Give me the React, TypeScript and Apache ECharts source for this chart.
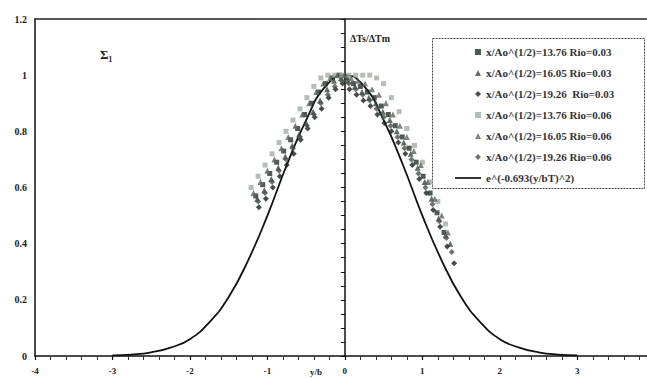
import React, { useEffect, useRef } from "react";
import * as echarts from "echarts";

// Normalised lateral coordinate y/b (x) against excess temperature ratio ΔTs/ΔTm (y)
const seriesNames = [
  "x/Ao^(1/2)=13.76 Rio=0.03",
  "x/Ao^(1/2)=16.05 Rio=0.03",
  "x/Ao^(1/2)=19.26  Rio=0.03",
  "x/Ao^(1/2)=13.76 Rio=0.06",
  "x/Ao^(1/2)=16.05 Rio=0.06",
  "x/Ao^(1/2)=19.26 Rio=0.06",
];
const curveName = "e^(-0.693(y/bT)^2)";

const pointsA: [number, number][] = [
  [-1.15, 0.57], [-1.06, 0.61], [-0.97, 0.65], [-0.88, 0.69], [-0.79, 0.73], [-0.7, 0.77],
  [-0.61, 0.81], [-0.52, 0.86], [-0.43, 0.9], [-0.34, 0.94], [-0.25, 0.97], [-0.16, 0.99],
  [-0.07, 1.0], [0.02, 0.99], [0.11, 0.97], [0.2, 0.96], [0.29, 0.94], [0.38, 0.92],
  [0.47, 0.89], [0.56, 0.86], [0.65, 0.82], [0.74, 0.78], [0.83, 0.74], [0.92, 0.69],
  [1.01, 0.64], [1.1, 0.58], [1.19, 0.51], [1.28, 0.44],
];
const pointsB: [number, number][] = [
  [-1.13, 0.56], [-1.04, 0.59], [-0.95, 0.63], [-0.86, 0.67], [-0.77, 0.71], [-0.68, 0.75],
  [-0.59, 0.79], [-0.5, 0.83], [-0.41, 0.87], [-0.32, 0.91], [-0.23, 0.95], [-0.14, 0.98],
  [-0.05, 0.99], [0.04, 0.98], [0.13, 0.96], [0.22, 0.94], [0.31, 0.92], [0.4, 0.9],
  [0.49, 0.87], [0.58, 0.84], [0.67, 0.8], [0.76, 0.76], [0.85, 0.72], [0.94, 0.67],
  [1.03, 0.62], [1.12, 0.56], [1.21, 0.49], [1.3, 0.43], [1.36, 0.4],
];
const pointsC: [number, number][] = [
  [-1.11, 0.53], [-1.02, 0.56], [-0.93, 0.6], [-0.84, 0.64], [-0.75, 0.68], [-0.66, 0.72],
  [-0.57, 0.77], [-0.48, 0.81], [-0.39, 0.85], [-0.3, 0.88], [-0.21, 0.92], [-0.12, 0.95],
  [-0.03, 0.97], [0.06, 0.95], [0.15, 0.93], [0.24, 0.91], [0.33, 0.89], [0.42, 0.86],
  [0.51, 0.83], [0.6, 0.8], [0.69, 0.76], [0.78, 0.72], [0.87, 0.68], [0.96, 0.63],
  [1.05, 0.58], [1.14, 0.52], [1.23, 0.46], [1.32, 0.39], [1.41, 0.33],
];
const pointsD: [number, number][] = [
  [-1.21, 0.6], [-1.12, 0.64], [-1.03, 0.68], [-0.94, 0.72], [-0.85, 0.76], [-0.76, 0.8],
  [-0.67, 0.84], [-0.58, 0.88], [-0.49, 0.92], [-0.4, 0.96], [-0.31, 0.99], [-0.22, 1.0],
  [-0.13, 1.0], [-0.04, 1.0], [0.05, 1.0], [0.14, 1.0], [0.23, 1.0], [0.32, 1.0],
  [0.41, 0.99], [0.5, 0.97], [0.6, 0.92], [0.7, 0.87], [0.8, 0.81], [0.9, 0.75],
  [1.0, 0.69], [1.1, 0.62], [1.2, 0.55], [1.3, 0.47],
];
const pointsE: [number, number][] = [
  [-1.18, 0.58], [-1.09, 0.62], [-1.0, 0.66], [-0.91, 0.7], [-0.82, 0.74], [-0.73, 0.78],
  [-0.64, 0.82], [-0.55, 0.86], [-0.46, 0.9], [-0.37, 0.94], [-0.28, 0.97], [-0.19, 0.99],
  [-0.1, 1.0], [-0.01, 1.0], [0.08, 0.99], [0.17, 0.98], [0.26, 0.97], [0.35, 0.95],
  [0.44, 0.93], [0.53, 0.9], [0.62, 0.86], [0.71, 0.82], [0.8, 0.78], [0.89, 0.73],
  [0.98, 0.68], [1.07, 0.62], [1.16, 0.56], [1.25, 0.5], [1.33, 0.44],
];
const pointsF: [number, number][] = [
  [-1.12, 0.55], [-1.03, 0.58], [-0.94, 0.62], [-0.85, 0.66], [-0.76, 0.7], [-0.67, 0.74],
  [-0.58, 0.78], [-0.49, 0.82], [-0.4, 0.86], [-0.31, 0.9], [-0.22, 0.93], [-0.13, 0.96],
  [-0.04, 0.98], [0.05, 0.97], [0.14, 0.95], [0.23, 0.93], [0.32, 0.91], [0.41, 0.88],
  [0.5, 0.85], [0.59, 0.82], [0.68, 0.78], [0.77, 0.74], [0.86, 0.7], [0.95, 0.65],
  [1.04, 0.6], [1.13, 0.54], [1.22, 0.48], [1.31, 0.42], [1.38, 0.37],
];

// Gaussian reference profile
const curveX = [
  -3, -2.75, -2.5, -2.25, -2, -1.75, -1.5, -1.25, -1, -0.75, -0.5, -0.25, 0,
  0.25, 0.5, 0.75, 1, 1.25, 1.5, 1.75, 2, 2.25, 2.5, 2.75, 3,
];
const curveY = [
  0.002, 0.005, 0.013, 0.03, 0.06, 0.12, 0.21, 0.34, 0.5, 0.68, 0.84, 0.96, 1.0,
  0.96, 0.84, 0.68, 0.5, 0.34, 0.21, 0.12, 0.06, 0.03, 0.013, 0.005, 0.002,
];

const xTickLabels = ["-4", "-3", "-2", "-1", "0", "1", "2", "3"];
const yTickLabels = ["0", "0.2", "0.4", "0.6", "0.8", "1", "1.2"];

const markerShapes = ["rect", "triangle", "diamond", "rect", "triangle", "diamond"];
const markerColors = ["#26302a", "#3b463e", "#1c221e", "#a3ada5", "#5b685f", "#47534b"];

const FONT = "'Liberation Serif', 'DejaVu Serif', serif";

export default function App() {
  const ref = useRef<HTMLDivElement>(null);

  useEffect(() => {
    if (!ref.current) return;
    const chart = echarts.init(ref.current, null, { renderer: "svg" });
    const pointSets = [pointsA, pointsB, pointsC, pointsD, pointsE, pointsF];

    const scatterSeries = pointSets.map((pts, i) => ({
      type: "scatter",
      name: seriesNames[i],
      data: pts,
      symbol: markerShapes[i],
      symbolSize: markerShapes[i] === "rect" ? 5 : 6,
      itemStyle: { color: markerColors[i] },
      xAxisIndex: 0,
      yAxisIndex: 0,
      z: 3,
    }));

    const legendText = {
      fontFamily: FONT,
      fontSize: 11,
      fontWeight: "bold",
      color: "#333",
      lineHeight: 12,
    };

    chart.setOption({
      animation: false,
      backgroundColor: "#ffffff",
      grid: { left: 35, right: 0, top: 19, bottom: 22, containLabel: false },
      xAxis: [
        {
          type: "value",
          min: -4,
          max: 3.9,
          interval: 1,
          position: "bottom",
          axisLine: { show: true, onZero: false, lineStyle: { color: "#111", width: 1.5 } },
          axisTick: { show: true, length: 4, lineStyle: { color: "#111", width: 1.2 } },
          minorTick: { show: true, splitNumber: 5, length: 4, lineStyle: { color: "#333", width: 1 } },
          axisLabel: {
            margin: 10,
            fontSize: 9,
            fontWeight: "bold",
            fontFamily: FONT,
            color: "#222",
            showMaxLabel: false,
            formatter: (v: number) => xTickLabels[Math.round(v) + 4] ?? "",
          },
          splitLine: { show: false },
        },
        {
          type: "value",
          min: -4,
          max: 3.9,
          position: "top",
          axisLine: { show: true, onZero: false, lineStyle: { color: "#222", width: 1.5 } },
          axisTick: { show: false },
          axisLabel: { show: false },
          splitLine: { show: false },
        },
      ],
      yAxis: [
        {
          type: "value",
          min: 0,
          max: 1.2,
          interval: 0.2,
          position: "left",
          axisLine: { show: true, onZero: false, lineStyle: { color: "#111", width: 1.5 } },
          axisTick: { show: false },
          axisLabel: {
            margin: 8,
            fontSize: 10,
            fontWeight: "bold",
            fontFamily: FONT,
            color: "#222",
            formatter: (v: number) => yTickLabels[Math.round(v * 5)] ?? "",
          },
          splitLine: { show: false },
        },
        {
          type: "value",
          min: 0,
          max: 1.2,
          interval: 0.05,
          position: "right",
          axisLine: { show: true, onZero: true, lineStyle: { color: "#111", width: 1.5 } },
          axisTick: { show: true, inside: true, length: 4, lineStyle: { color: "#111", width: 1 } },
          axisLabel: { show: false },
          splitLine: { show: false },
        },
      ],
      legend: [
        {
          orient: "vertical",
          left: 475,
          top: 46,
          itemWidth: 6,
          itemHeight: 6,
          itemGap: 9,
          padding: 0,
          align: "left",
          z: 5,
          data: seriesNames,
          textStyle: legendText,
        },
        {
          orient: "vertical",
          left: 455,
          top: 172,
          itemWidth: 26,
          itemHeight: 2,
          itemGap: 9,
          padding: 0,
          align: "left",
          z: 5,
          data: [{ name: curveName, icon: "rect" }],
          itemStyle: { color: "#333" },
          textStyle: legendText,
        },
      ],
      graphic: [
        {
          type: "rect",
          left: 432,
          top: 38,
          shape: { width: 212, height: 150 },
          style: { fill: "#ffffff", stroke: "#444", lineWidth: 1, lineDash: [2, 1] },
          z: 3,
        },
        {
          type: "text",
          left: 100,
          top: 48,
          style: { text: "Σ₁", fontFamily: FONT, fontSize: 13, fontWeight: "bold", fill: "#222" },
        },
        {
          type: "text",
          left: 350,
          top: 33,
          style: { text: "ΔTs/ΔTm", fontFamily: FONT, fontSize: 10, fontWeight: "bold", fill: "#222" },
        },
        {
          type: "text",
          left: 310,
          top: 367,
          style: { text: "y/b", fontFamily: FONT, fontSize: 9, fontWeight: "bold", fill: "#222" },
        },
      ],
      series: [
        ...scatterSeries,
        {
          type: "line",
          name: curveName,
          data: curveX.map((x, i) => [x, curveY[i]]),
          smooth: true,
          showSymbol: false,
          symbol: "none",
          lineStyle: { color: "#111", width: 1.8 },
          itemStyle: { color: "#111" },
          xAxisIndex: 0,
          yAxisIndex: 0,
          z: 2,
        },
      ],
    });

    return () => chart.dispose();
  }, []);

  return (
    <div
      ref={ref}
      style={{ position: "fixed", left: 0, top: 0, width: 647, height: 378, background: "#fff" }}
    />
  );
}
